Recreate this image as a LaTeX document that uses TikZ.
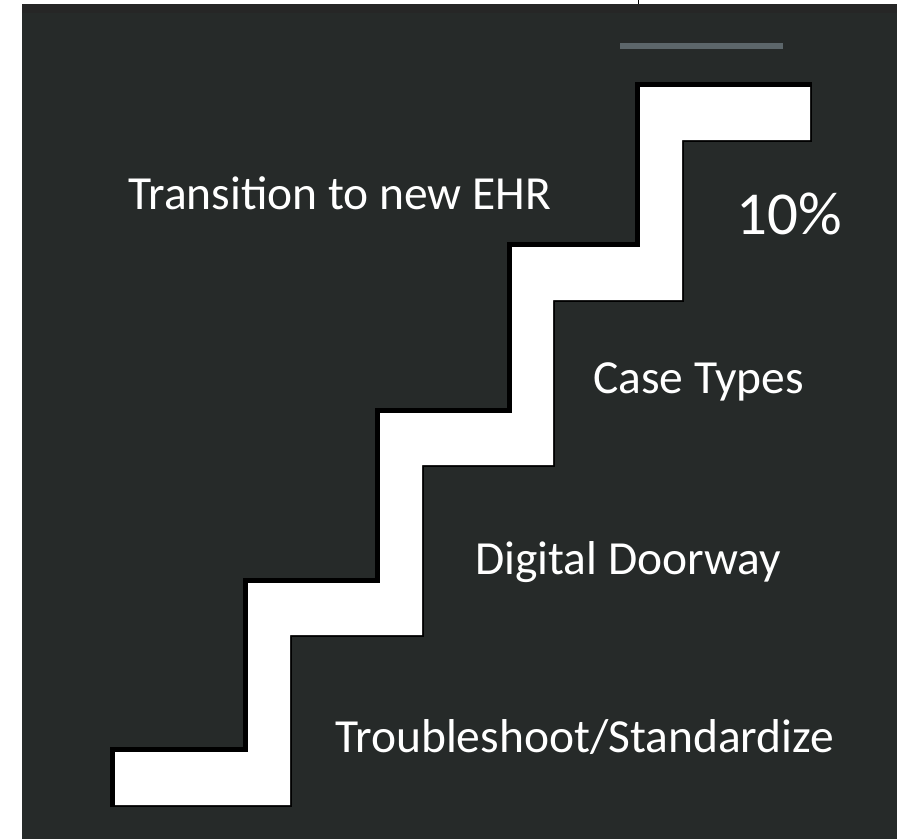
\documentclass[tikz,border=0pt]{standalone}
\usepackage{fontspec}
\setmainfont{Carlito}
\definecolor{board}{RGB}{38,42,41}
\definecolor{slit}{RGB}{92,102,106}
\tikzset{
  steplabel/.style={text=white, inner sep=0pt, anchor=base west, font=\fontsize{47.5}{56}\selectfont},
  bigfigure/.style={steplabel, font=\fontsize{61}{70}\selectfont}
}

\begin{document}
\begin{tikzpicture}[x=1pt,y=-1pt]
         \useasboundingbox (0,0) rectangle (902,839);
         \fill[white] (0,0) rectangle (902,839);
         \fill[board] (22,4) rectangle (897,839);
         \fill[black!85] (22,4) rectangle (897,13);
         \draw[black, line width=1pt] (638,0) -- (638,4);
         \fill[slit] (620,43) rectangle (783,49);
         % the stairs: shadow, then white steps
         \def\stairs{(115,805) -- (290,805) -- (290,635) -- (422,635) -- (422,465) -- (553,465) -- (553,300) -- (682,300) -- (682,140) -- (810,140) -- (810,87) -- (640,87) -- (640,247) -- (512,247) -- (512,413) -- (380,413) -- (380,583) -- (248,583) -- (248,752) -- (115,752) -- cycle}
         \draw[black, line width=7pt, line join=miter, xshift=-1.5pt, yshift=1.5pt] \stairs;
         \fill[white] \stairs;
         \node[steplabel] (ehr) at (128,209) {Transition to new EHR};
         \node[bigfigure] (pct) at (736,234) {10\%};
         \node[steplabel] (cases) at (593,393) {Case Types};
         \node[steplabel] (door) at (475,574) {Digital Doorway};
         \node[steplabel] (trouble) at (335,752) {Troubleshoot/Standardize};
\end{tikzpicture}
\end{document}
